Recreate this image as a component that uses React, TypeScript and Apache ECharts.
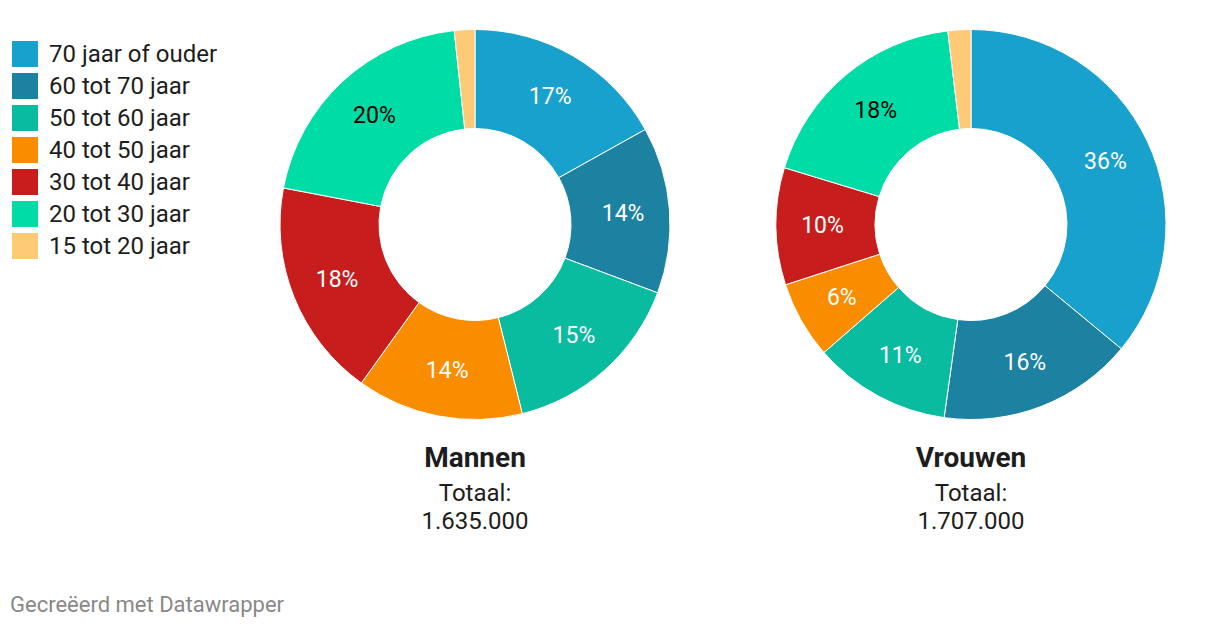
import React, { useEffect, useRef } from "react";
import * as echarts from "echarts";

const categories = [
  "70 jaar of ouder",
  "60 tot 70 jaar",
  "50 tot 60 jaar",
  "40 tot 50 jaar",
  "30 tot 40 jaar",
  "20 tot 30 jaar",
  "15 tot 20 jaar",
];
const colors = ["#18a1cd", "#1d81a2", "#09bb9f", "#fa8c00", "#c71e1d", "#00dca6", "#ffca76"];
const labelColors = ["#fff", "#fff", "#fff", "#fff", "#fff", "#000", "#000"];
const mannen = [16.9, 13.8, 15.4, 13.8, 18.1, 20.3, 1.7];
const vrouwen = [36.0, 16.2, 11.4, 6.4, 9.7, 18.4, 1.9];
const titles = ["Mannen", "Vrouwen"];
const totals = ["1.635.000", "1.707.000"];

const FONT = "Roboto, sans-serif";

function makeSeries(name: string, values: number[], cx: number) {
  return {
    type: "pie",
    name,
    center: [cx, 224.5],
    radius: [96, 195],
    startAngle: 90,
    clockwise: true,
    silent: true,
    label: {
      show: true,
      position: "inside",
      fontFamily: FONT,
      fontSize: 23,
      formatter: (p: any) => (p.dataIndex === 6 ? "" : Math.round(p.value) + "%"),
    },
    labelLine: { show: false },
    itemStyle: { borderColor: "#fff", borderWidth: 1 },
    data: values.map((v, i) => ({
      name: categories[i],
      value: v,
      itemStyle: { color: colors[i] },
      label: { color: labelColors[i] },
    })),
  };
}

export default function App() {
  const ref = useRef<HTMLDivElement>(null);
  useEffect(() => {
    document.body.style.margin = "0";
    const chart = echarts.init(ref.current!, null, { renderer: "svg" });
    const centers = [475, 971];
    const graphics: any[] = [];
    const txt = (x: number, y: number, text: string, size: number, extra: any = {}) => ({
      type: "text",
      x,
      y,
      style: {
        text,
        fontFamily: FONT,
        fontSize: size,
        fill: "#1d1d1d",
        align: "center",
        verticalAlign: "middle",
        ...extra,
      },
    });
    centers.forEach((cx, i) => {
      graphics.push(txt(cx, 457, titles[i], 28, { fontWeight: "bold" }));
      graphics.push(txt(cx, 493, "Totaal:", 24));
      graphics.push(txt(cx, 521, totals[i], 24));
    });
    graphics.push(txt(10, 604, "Gecreëerd met Datawrapper", 22, { fill: "#888", align: "left" }));
    chart.setOption({
      animation: false,
      backgroundColor: "#fff",
      legend: {
        show: true,
        orient: "vertical",
        left: 10,
        top: 39,
        padding: 0,
        icon: "rect",
        itemWidth: 28,
        itemHeight: 28,
        itemGap: 2,
        selectedMode: false,
        data: categories,
        textStyle: {
          fontFamily: FONT,
          fontSize: 24,
          lineHeight: 28,
          color: "#1d1d1d",
          padding: [0, 0, 0, 5],
        },
      },
      graphic: graphics,
      series: [makeSeries("Mannen", mannen, centers[0]), makeSeries("Vrouwen", vrouwen, centers[1])],
    });
    return () => chart.dispose();
  }, []);
  return <div ref={ref} style={{ width: 1220, height: 628 }} />;
}
